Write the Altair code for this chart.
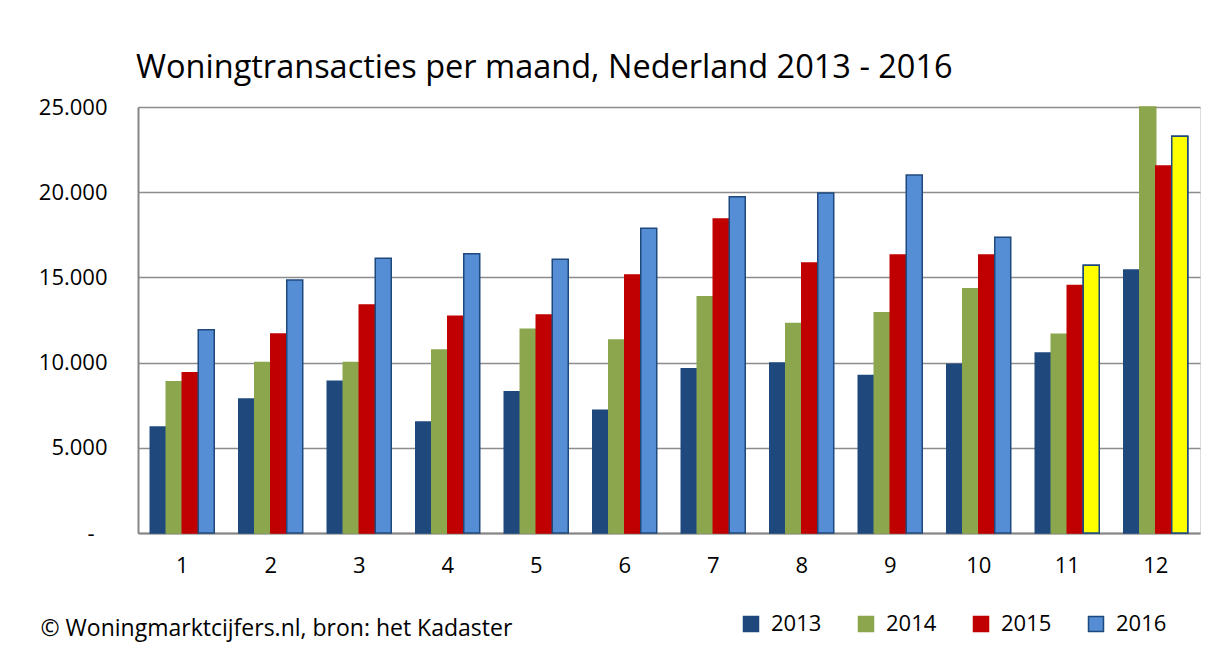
import altair as alt
import pandas as pd

months = [1, 2, 3, 4, 5, 6, 7, 8, 9, 10, 11, 12]
years = ["2013", "2014", "2015", "2016"]
v2013 = [6220, 7860, 8900, 6510, 8290, 7200, 9640, 9980, 9250, 9900, 10560, 15430]
v2014 = [8880, 10000, 10000, 10740, 11950, 11330, 13870, 12300, 12930, 14340, 11660, 25000]
v2015 = [9410, 11680, 13380, 12720, 12790, 15140, 18430, 15850, 16320, 16320, 14520, 21540]
v2016 = [11930, 14850, 16120, 16390, 16060, 17880, 19740, 19950, 21010, 17350, 15710, 23280]
highlight_2016 = [11, 12]  # months shown in yellow (incomplete / preliminary)

rows = []
for yr, vals in zip(years, [v2013, v2014, v2015, v2016]):
    for m, v in zip(months, vals):
        rows.append({"maand": m, "jaar": yr, "transacties": v})
df = pd.DataFrame(rows)

fills = ["#1F497D", "#8CA64E", "#C00000", "#558ED5"]
strokes = ["#1F497D", "#8CA64E", "#C00000", "#1F497D"]
FONT = "Open Sans"

x = alt.X("maand:O", title="© Woningmarktcijfers.nl, bron: het Kadaster",
          scale=alt.Scale(paddingInner=0.277, paddingOuter=0.1385),
          axis=alt.Axis(labelAngle=0, ticks=False, labelPadding=22, labelFontSize=22,
                        labelFont=FONT, labelColor="#000000", domainColor="#868686",
                        domainWidth=2, titleFont=FONT, titleFontSize=23, titleFontWeight="normal",
                        titleColor="#000000", titleAnchor="start", titleAlign="left",
                        titleBaseline="middle", titleX=-98, titleY=95))
y = alt.Y("transacties:Q", title=None,
          scale=alt.Scale(domain=[0, 25000], nice=False),
          axis=alt.Axis(values=[0, 5000, 10000, 15000, 20000, 25000], ticks=False,
                        labelExpr="datum.value == 0 ? '-' : replace(format(datum.value, ','), ',', '.')",
                        labelPadding={"condition": {"test": "datum.value === 0", "value": 44}, "value": 31},
                        labelFontSize=22, labelFont=FONT, labelColor="#000000",
                        domainColor="#868686", domainWidth=2,
                        grid=True, gridColor="#8C8C8C", gridWidth=1.5))
xo = alt.XOffset("jaar:N", scale=alt.Scale(domain=years, paddingInner=0, paddingOuter=0))

bars = alt.Chart(df).mark_bar(strokeWidth=1.5).encode(
    x=x, y=y, xOffset=xo,
    color=alt.Color("jaar:N", title=None, scale=alt.Scale(domain=years, range=fills),
                    legend=alt.Legend(orient="none", legendX=602, legendY=506, direction="horizontal",
                                      symbolType="square", symbolSize=225, symbolStrokeWidth=1.5,
                                      labelFont=FONT, labelFontSize=22, labelColor="#000000",
                                      labelOffset=9, columnPadding=33, padding=0)),
    stroke=alt.Stroke("jaar:N", title=None, scale=alt.Scale(domain=years, range=strokes)),
)

yellow = alt.Chart(df).transform_filter(
    alt.FieldEqualPredicate(field="jaar", equal="2016")
).transform_filter(
    alt.FieldOneOfPredicate(field="maand", oneOf=highlight_2016)
).mark_bar(strokeWidth=1.5, fill="#FFFF00", stroke="#1F497D").encode(
    x=x, y=y, xOffset=xo
)

chart = alt.layer(bars, yellow).properties(
    width=1062, height=426,
    autosize=alt.AutoSizeParams(type="none"),
    padding={"left": 130, "top": 99, "right": 4, "bottom": 123},
    title=alt.TitleParams("Woningtransacties per maand, Nederland 2013 - 2016",
                          font=FONT, fontSize=32.5, fontWeight="normal", color="#000000",
                          anchor="start", frame="group", offset=12, dx=-2),
).configure_view(stroke=None).configure(background="#FFFFFF")

chart.save("out.html", embed_options={"renderer": "svg", "actions": False})
